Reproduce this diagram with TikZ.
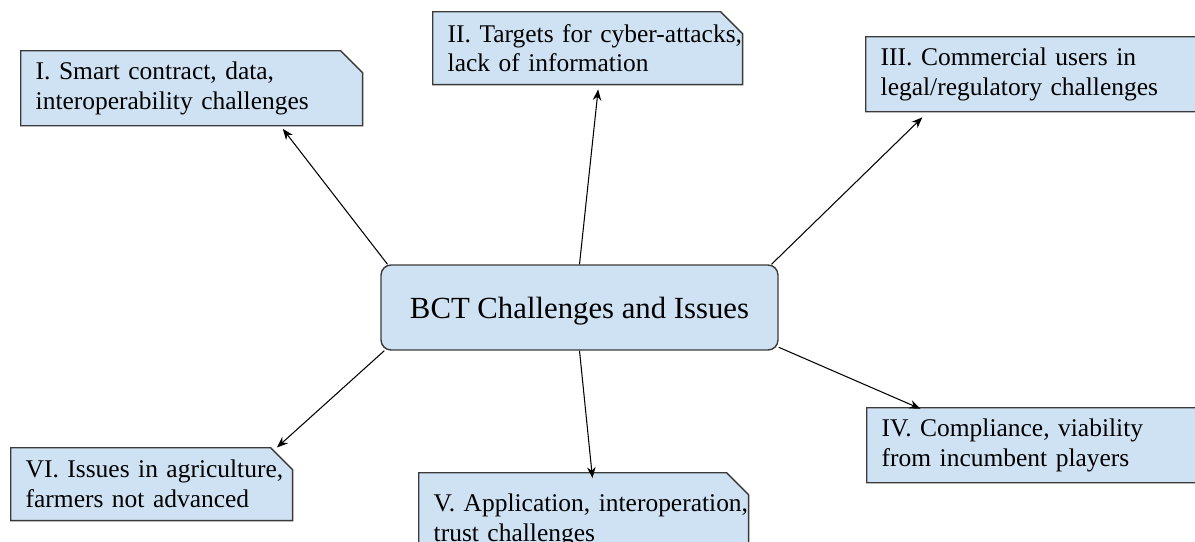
\documentclass[tikz,border=0pt]{standalone}
\usepackage{fontspec}
\setmainfont{Liberation Serif}
\usepackage{tikz}
\usetikzlibrary{arrows.meta,shapes.misc,calc}
\definecolor{issuefill}{HTML}{CFE2F3}
\definecolor{issueline}{HTML}{3A3A3A}

\begin{document}
\begin{tikzpicture}[x=0.02cm,y=-0.02cm,
  issue/.style={chamfered rectangle, chamfered rectangle corners=north east,
    chamfered rectangle xsep=0.22cm, chamfered rectangle ysep=0.22cm,
    draw=issueline, fill=issuefill, line width=0.8pt, anchor=north west,
    align=left, inner xsep=0.08cm, inner ysep=0pt,
    font=\fontsize{14.5}{17}\selectfont},
  hub/.style={rectangle, rounded corners=0.2cm, draw=issueline, fill=issuefill,
    line width=0.8pt, minimum width=7.94cm, minimum height=1.7cm, text depth=0pt,
    font=\fontsize{17.5}{21}\selectfont},
  link/.style={-{Stealth[length=2.2mm,width=1.7mm]}, line width=0.6pt}]
 \useasboundingbox (0,0) rectangle (1195,541);
 \node[hub] (ctr) at (579.5,307.5) {BCT Challenges and Issues};
 \node[issue, text width=6.24cm, minimum height=1.44cm] (iss1) at (20,50)
   {I. Smart contract, data,\\interoperability challenges};
 \node[issue, text width=5.6cm, minimum height=1.46cm] (iss2) at (432,11)
   {\mbox{II. Targets for cyber-attacks,}\\lack of information};
 \node[issue, text width=6.5cm, minimum height=1.48cm] (iss3) at (865,36)
   {III. Commercial users in\\legal/regulatory challenges};
 \node[issue, text width=6.48cm, minimum height=1.5cm] (iss4) at (866,407)
   {IV. Compliance, viability\\from incumbent players};
 \node[issue, text width=6cm, minimum height=1.92cm] (iss5) at (418,472)
   {\mbox{V. Application, interoperation,}\\trust challenges};
 \node[issue, text width=5.04cm, minimum height=1.46cm] (iss6) at (10,447)
   {\mbox{VI. Issues in agriculture,}\\farmers not advanced};
 % spokes
 \draw[link, shorten >=0.06cm] ($(ctr.north west)!0.018!(ctr.north east)$) -- ($(iss1.south west)!0.76!(iss1.south east)$);
 \draw[link, shorten >=0.08cm] (ctr.north) -- ($(iss2.south west)!0.535!(iss2.south east)$);
 \draw[link, shorten >=0.14cm] ($(ctr.north east)!0.018!(ctr.north west)$) -- ($(iss3.south west)!0.175!(iss3.south east)$);
 \draw[link] ($(ctr.south east)!0.04!(ctr.north east)$) -- ($(iss4.north west)!0.158!(iss4.north east)$);
 \draw[link] (ctr.south) -- ($(iss5.north west)!0.545!(iss5.north east)$);
 \draw[link, shorten >=0.3cm] ($(ctr.south west)!0.01!(ctr.south east)$) -- ($(iss6.north west)!0.94!(iss6.north east)$);
\end{tikzpicture}
\end{document}
